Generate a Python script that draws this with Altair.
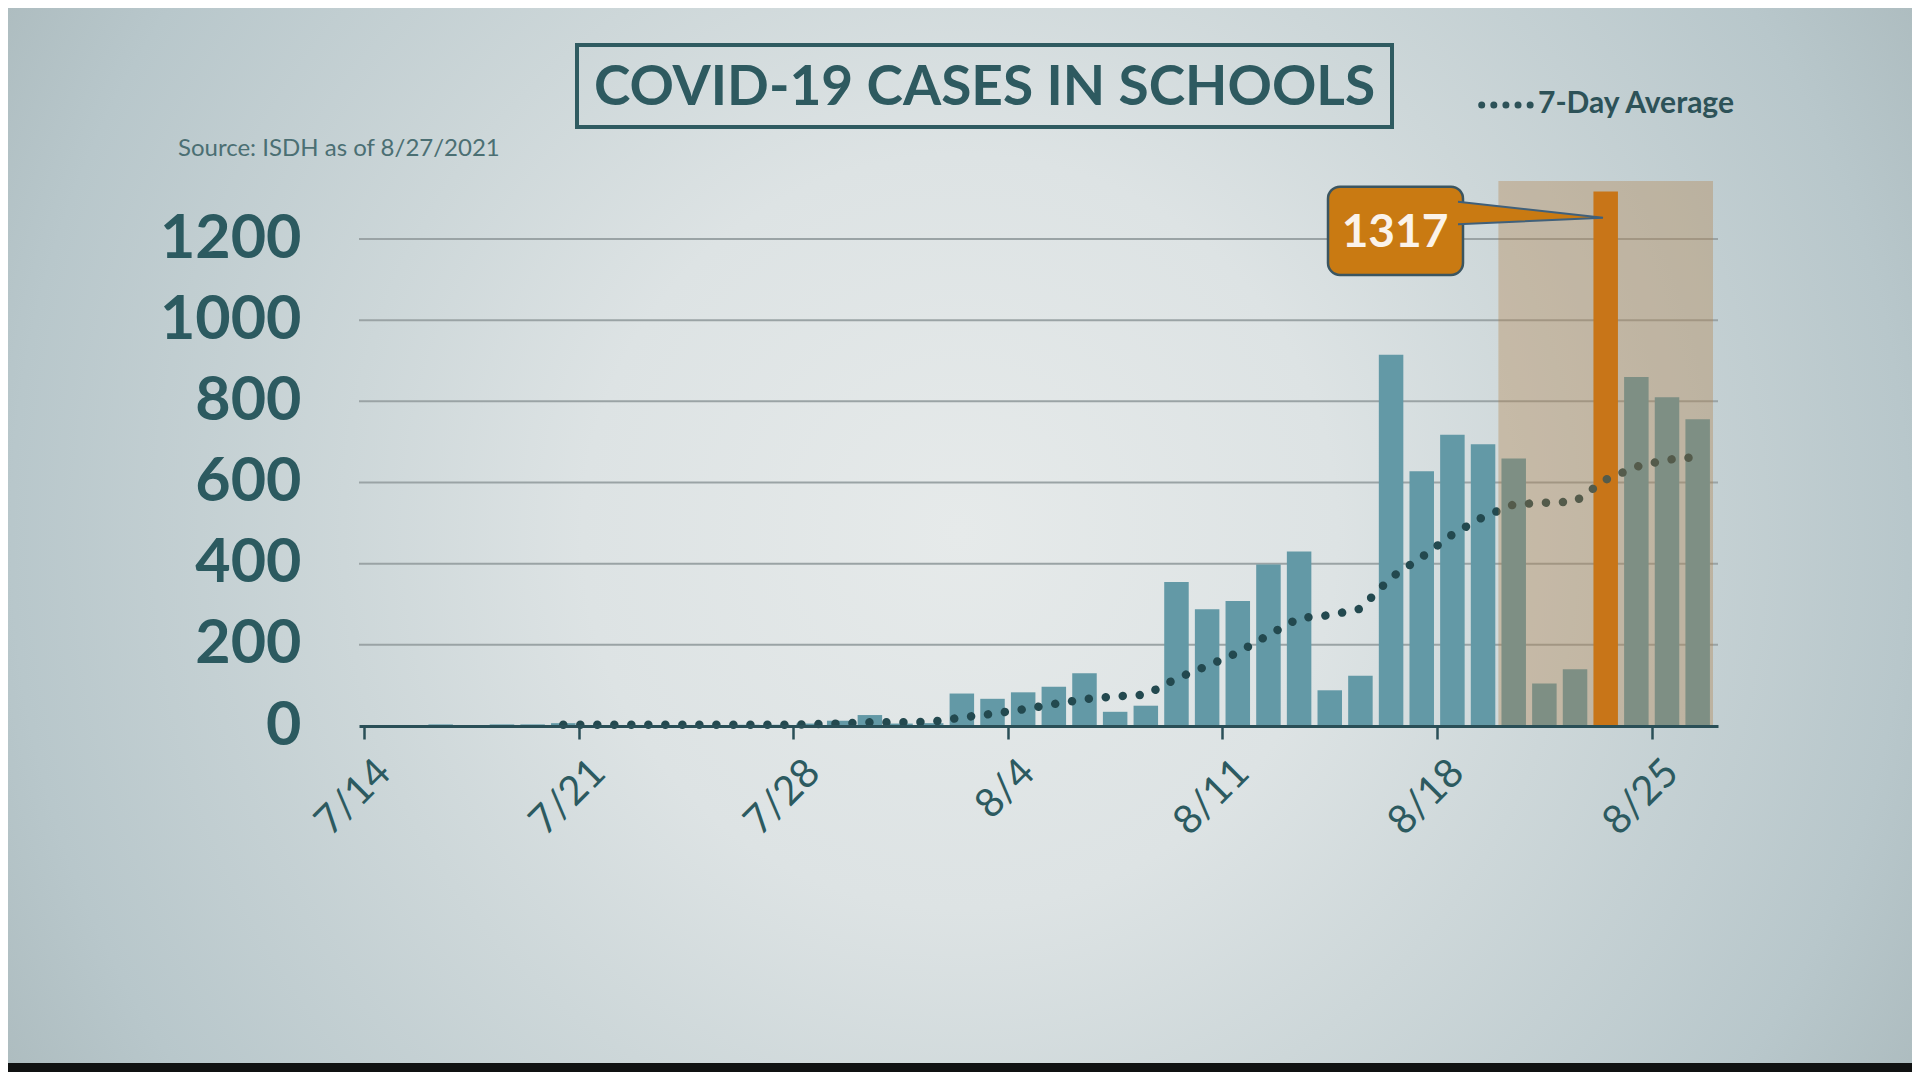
import json
import altair as alt
import pandas as pd

# ---------------- data ----------------
dates = ["7/14", "7/15", "7/16", "7/17", "7/18", "7/19", "7/20",
         "7/21", "7/22", "7/23", "7/24", "7/25", "7/26", "7/27",
         "7/28", "7/29", "7/30", "7/31", "8/1", "8/2", "8/3",
         "8/4", "8/5", "8/6", "8/7", "8/8", "8/9", "8/10",
         "8/11", "8/12", "8/13", "8/14", "8/15", "8/16", "8/17",
         "8/18", "8/19", "8/20", "8/21", "8/22", "8/23", "8/24",
         "8/25", "8/26"]
cases = [0, 0, 4, 0, 4, 4, 7,
         2, 2, 2, 2, 2, 3, 3,
         6, 13, 27, 6, 7, 80, 67,
         83, 97, 130, 35, 50, 355, 288,
         308, 398, 430, 88, 124, 915, 628,
         718, 694, 659, 105, 140, 1317, 860,
         810, 756]
avg7 = [None, None, None, None, None, None, 3,
        3, 3, 3, 3, 3, 3, 3,
        4, 6, 9, 9, 10, 21, 30,
        41, 54, 66, 73, 77, 117, 148,
        181, 224, 266, 273, 289, 366, 416,
        472, 515, 546, 550, 553, 607, 639,
        656, 663]
tick_dates = ["7/14", "7/21", "7/28", "8/4", "8/11", "8/18", "8/25"]
y_ticks = [0, 200, 400, 600, 800, 1000, 1200]
grid_values = [200, 400, 600, 800, 1000, 1200]
highlight = ["8/20", "8/26"]
peak_date = "8/23"
title_text = "COVID-19 CASES IN SCHOOLS"
source_text = "Source: ISDH as of 8/27/2021"
legend_text = "7-Day Average"

# ---------------- layout / style ----------------
W, H = 1359, 545
PAD = {"left": 351, "top": 173, "right": 194, "bottom": 346}
FONT = "Lato"
teal = "#6399a6"
orange_bar = "#d47100"
orange = "#c97a12"
dark = "#23494f"
textc = "#2c5a60"
axisc = "#2a4f57"

df = pd.DataFrame({"date": dates, "cases": cases, "avg": avg7})
df["day"] = list(range(len(dates)))

xscale = alt.Scale(domain=[0, len(dates)], nice=False, zero=False)
yscale = alt.Scale(domain=[0, 1343], nice=False, zero=True)

label_js = json.dumps(dates)
xaxis = alt.Axis(
    title=None,
    values=[dates.index(d) for d in tick_dates],
    labelExpr=f"{label_js}[datum.value]",
    labelAngle=-45, labelAlign="right", labelBaseline="middle",
    labelOffset=20, labelPadding=27,
    labelFont=FONT, labelFontSize=40, labelColor=textc,
    labelFlush=False, labelOverlap=False,
    tickSize=13, tickWidth=2.5, tickColor=axisc,
    domainColor=axisc, domainWidth=3, grid=False, zindex=1,
)
yaxis = alt.Axis(
    title=None, values=y_ticks, format="d",
    labelFont=FONT, labelFontSize=61, labelFontWeight="bold",
    labelColor=textc, labelPadding=58,
    ticks=False, domain=False, grid=False, zindex=1,
)

one = pd.DataFrame({"label": [title_text]})

# background (radial vignette)
bg = alt.Chart(one).mark_rect(
    fill={
        "gradient": "radial",
        "x1": 0.5, "y1": 0.5, "r1": 0,
        "x2": 0.5, "y2": 0.5, "r2": 0.6,
        "stops": [
            {"offset": 0.0, "color": "#e6eaea"},
            {"offset": 0.33, "color": "#dde3e4"},
            {"offset": 0.54, "color": "#cdd7d9"},
            {"offset": 0.83, "color": "#b8c7cb"},
            {"offset": 1.0, "color": "#aab9bc"},
        ],
    },
    strokeWidth=0,
).encode(x=alt.value(-351), x2=alt.value(1553), y=alt.value(-481), y2=alt.value(1183))

band = alt.Chart(one).mark_rect(color="#101212").encode(
    x=alt.value(-351), x2=alt.value(1553), y=alt.value(882), y2=alt.value(892)
)

grid = alt.Chart(pd.DataFrame({"v": grid_values})).mark_rule(
    color="#9aa3a5", strokeWidth=2
).encode(y=alt.Y("v:Q", scale=yscale, axis=yaxis))

bars = alt.Chart(df).transform_calculate(mid="datum.day + 0.5").mark_bar(width=24.5).encode(
    x=alt.X("mid:Q", scale=xscale, axis=xaxis),
    y=alt.Y("cases:Q", scale=yscale, axis=yaxis),
    color=alt.condition(alt.datum.date == peak_date, alt.value(orange_bar), alt.value(teal)),
)

line = alt.Chart(df).transform_calculate(mid="datum.day + 0.5").transform_filter(
    "isValid(datum.avg)"
).mark_line(
    color=dark, strokeWidth=8.5, strokeCap="round", strokeDash=[0.01, 17]
).encode(
    x=alt.X("mid:Q", scale=xscale, axis=xaxis),
    y=alt.Y("avg:Q", scale=yscale, axis=yaxis),
)

shade_df = pd.DataFrame({
    "start": [dates.index(highlight[0])],
    "end": [dates.index(highlight[1]) + 1],
})
shade = alt.Chart(shade_df).mark_rect(color="#b27f46", opacity=0.35).encode(
    x=alt.X("start:Q", scale=xscale, axis=xaxis),
    x2="end:Q",
    y=alt.value(0),
    y2=alt.value(H),
)

title_box = alt.Chart(one).mark_rect(
    fill="transparent", stroke="#2f5b61", strokeWidth=4
).encode(x=alt.value(218), x2=alt.value(1033), y=alt.value(-136), y2=alt.value(-54))

title = alt.Chart(one).mark_text(
    font=FONT, fontSize=55, fontWeight="bold", color="#2e5a60",
    align="center", baseline="alphabetic",
).encode(x=alt.value(625.5), y=alt.value(-76), text="label:N")

source = alt.Chart(pd.DataFrame({"label": [source_text]})).mark_text(
    font=FONT, fontSize=24, color="#4b6f73", align="left", baseline="alphabetic",
).encode(x=alt.value(-181), y=alt.value(-25), text="label:N")

leg_dots = alt.Chart(one).mark_rule(
    color="#2d5258", strokeWidth=7, strokeCap="round", strokeDash=[0.01, 12.1]
).encode(x=alt.value(1122.7), x2=alt.value(1172), y=alt.value(-76))

leg_text = alt.Chart(pd.DataFrame({"label": [legend_text]})).mark_text(
    font=FONT, fontSize=30, fontWeight="bold", color="#2d5258",
    align="left", baseline="alphabetic",
).encode(x=alt.value(1179), y=alt.value(-68), text="label:N")

call_box = alt.Chart(one).mark_rect(
    fill=orange, stroke="#3b5560", strokeWidth=2.5, cornerRadius=12
).encode(x=alt.value(969), x2=alt.value(1104), y=alt.value(5.7), y2=alt.value(94))

call_ptr = alt.Chart(one).mark_point(
    shape="M-1,-0.156L1,0.065L-1,0.156", filled=True, size=21025,
    fill=orange, stroke="#40607a", strokeWidth=2, opacity=1,
).encode(x=alt.value(1171.5), y=alt.value(32))

call_text = alt.Chart(df).transform_filter(alt.datum.date == peak_date).mark_text(
    font=FONT, fontSize=46, fontWeight="bold", color="#fbf3ea",
    align="center", baseline="alphabetic",
).encode(x=alt.value(1036), y=alt.value(66), text=alt.Text("cases:Q", format="d"))

chart = alt.layer(
    bg, band, grid, bars, line, shade, title_box, title, source,
    leg_dots, leg_text, call_box, call_ptr, call_text,
).properties(
    width=W, height=H, padding=PAD,
    autosize=alt.AutoSizeParams(type="none"),
    background="#cfd8da",
).configure_view(stroke=None)

chart.save("out.html", embed_options={"renderer": "svg", "actions": False})
